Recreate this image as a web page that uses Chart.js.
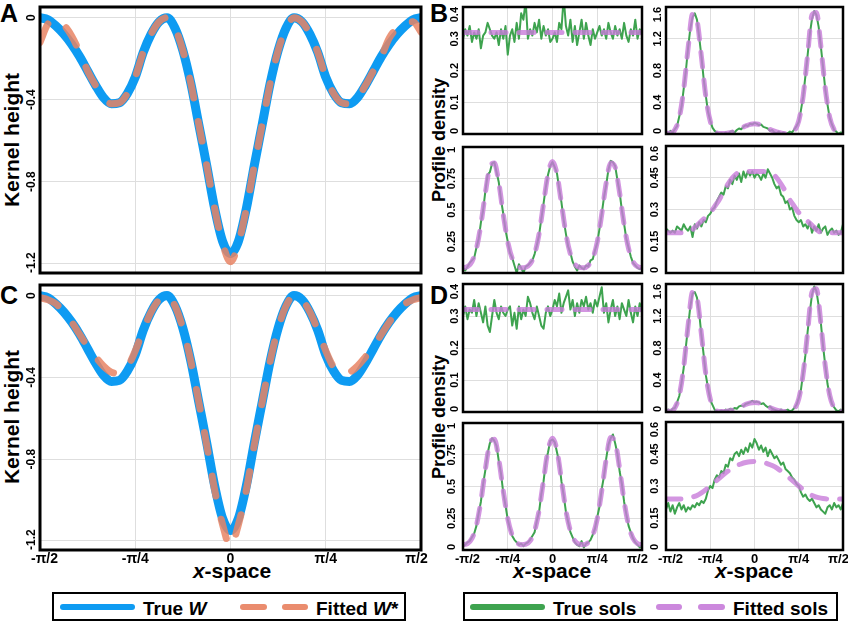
<!DOCTYPE html>
<html>
<head>
<meta charset="utf-8">
<script src="https://cdn.jsdelivr.net/npm/chart.js@4.4.1/dist/chart.umd.min.js"></script>
<style>
  body { margin: 0; width: 848px; height: 622px; background: #fff; position: relative; overflow: hidden;
         font-family: "Liberation Sans", Arial, Helvetica, sans-serif; color: #000; }
  canvas { position: absolute; }
  .tag { position: absolute; font: bold 25px/25px "Liberation Sans", Arial, sans-serif; }
  .ytitle { position: absolute; font-weight: bold; white-space: nowrap;
            transform: translate(-50%, -50%) rotate(-90deg); }
  .xtitle { position: absolute; top: 560px; font: bold 21px/21px "Liberation Sans", Arial, sans-serif;
            transform: translateX(-50%); white-space: nowrap; }
  .box { position: absolute; top: 592px; height: 25px; border: 2px solid #000; }
  .bar { position: absolute; top: 604px; height: 6px; border-radius: 3px; }
  .key { position: absolute; top: 599px; font: bold 19px/19px "Liberation Sans", Arial, sans-serif; white-space: nowrap; }
</style>
</head>
<body>

<div class="tag" style="left:0px;top:1px">A</div>
<div class="tag" style="left:430px;top:1px">B</div>
<div class="tag" style="left:0px;top:283px">C</div>
<div class="tag" style="left:430px;top:283px">D</div>

<div class="ytitle" style="left:10.5px;top:140px;font-size:21px;line-height:21px">Kernel height</div>
<div class="ytitle" style="left:10.5px;top:417px;font-size:21px;line-height:21px">Kernel height</div>
<div class="ytitle" style="left:439px;top:140px;font-size:18px;line-height:18px">Profile density</div>
<div class="ytitle" style="left:439px;top:417px;font-size:18px;line-height:18px">Profile density</div>

<div class="xtitle" style="left:232px"><i>x</i>-space</div>
<div class="xtitle" style="left:552px"><i>x</i>-space</div>
<div class="xtitle" style="left:754px"><i>x</i>-space</div>

<div class="box" style="left:52px;width:350px"></div>
<div class="bar" style="left:60px;width:75px;background:#0e9bf2"></div>
<div class="key" style="left:143px">True <i>W</i></div>
<div class="bar" style="left:240px;width:27px;background:#ea8c6e"></div>
<div class="bar" style="left:282px;width:26px;background:#ea8c6e"></div>
<div class="key" style="left:316px">Fitted <i>W</i>*</div>

<div class="box" style="left:463px;width:371px"></div>
<div class="bar" style="left:470px;width:75px;background:#3ea34f"></div>
<div class="key" style="left:553px">True sols</div>
<div class="bar" style="left:656px;width:26px;background:#cc88dd"></div>
<div class="bar" style="left:698px;width:27px;background:#cc88dd"></div>
<div class="key" style="left:733px">Fitted sols</div>

<script>
// ---- data ----
const xTicks = [-Math.PI / 2, -Math.PI / 4, 0, Math.PI / 4, Math.PI / 2];
const xTickLabels = ['-π/2', '-π/4', '0', 'π/4', 'π/2'];

// sample positions on x-space
const xKernel = Array.from({ length: 49 }, (_, i) => -Math.PI / 2 + i * Math.PI / 48);
const xSol = Array.from({ length: 81 }, (_, i) => -Math.PI / 2 + i * Math.PI / 80);
const xFit = Array.from({ length: 41 }, (_, i) => -Math.PI / 2 + i * Math.PI / 40);
const xFlat = [-Math.PI / 2, Math.PI / 2];

const kernelTicks = [-1.2, -0.8, -0.4, 0];
const flatTicks = [0, 0.1, 0.2, 0.3, 0.4];
const twinTicks = [0, 0.4, 0.8, 1.2, 1.6];
const tripleTicks = [0, 0.25, 0.5, 0.75, 1];
const plateauTicks = [0, 0.15, 0.3, 0.45, 0.6];

const trueW = [
  0.0, -0.01, -0.04, -0.08, -0.13, -0.19, -0.26, -0.33, -0.39, -0.42,
  -0.415, -0.37, -0.29, -0.17, -0.08, -0.02, 0.0, -0.05, -0.16, -0.32,
  -0.52, -0.72, -0.93, -1.09, -1.15, -1.09, -0.93, -0.72, -0.52, -0.32,
  -0.16, -0.05, 0.0, -0.02, -0.08, -0.17, -0.29, -0.37, -0.415, -0.42,
  -0.39, -0.33, -0.26, -0.19, -0.13, -0.08, -0.04, -0.01, 0.0
];
const fittedA = [
  -0.12, -0.03, -0.005, -0.035, -0.09, -0.17, -0.26, -0.33, -0.39, -0.42,
  -0.415, -0.37, -0.29, -0.17, -0.08, -0.02, 0.0, -0.05, -0.16, -0.32,
  -0.52, -0.72, -0.93, -1.10, -1.19, -1.10, -0.93, -0.72, -0.52, -0.32,
  -0.16, -0.05, 0.0, -0.02, -0.08, -0.17, -0.29, -0.37, -0.415, -0.42,
  -0.39, -0.33, -0.26, -0.19, -0.10, -0.05, -0.02, -0.02, -0.07
];
const fittedC = [
  -0.01, -0.02, -0.04, -0.08, -0.13, -0.19, -0.25, -0.30, -0.345, -0.375,
  -0.38, -0.35, -0.27, -0.17, -0.08, -0.02, 0.0, -0.05, -0.16, -0.32,
  -0.52, -0.73, -0.95, -1.12, -1.23, -1.12, -0.95, -0.73, -0.52, -0.32,
  -0.16, -0.05, 0.0, -0.02, -0.08, -0.17, -0.27, -0.35, -0.38, -0.375,
  -0.345, -0.30, -0.25, -0.19, -0.13, -0.08, -0.04, -0.02, -0.01
];

// panel B
const solsB_flat = [
  0.30, 0.33, 0.31, 0.34, 0.29, 0.32, 0.30, 0.33, 0.27, 0.31,
  0.32, 0.35, 0.33, 0.31, 0.30, 0.32, 0.28, 0.33, 0.30, 0.34,
  0.25, 0.31, 0.33, 0.29, 0.35, 0.30, 0.38, 0.36, 0.42, 0.30,
  0.33, 0.31, 0.35, 0.32, 0.36, 0.30, 0.34, 0.31, 0.33, 0.29,
  0.30, 0.32, 0.29, 0.35, 0.33, 0.43, 0.34, 0.31, 0.36, 0.29,
  0.34, 0.28, 0.32, 0.36, 0.30, 0.35, 0.31, 0.28, 0.33, 0.30,
  0.32, 0.34, 0.31, 0.33, 0.30, 0.35, 0.32, 0.30, 0.34, 0.31,
  0.33, 0.30, 0.35, 0.31, 0.29, 0.33, 0.31, 0.36, 0.30, 0.33,
  0.31
];
const fitB_flat = [0.32, 0.32];
const solsB_twin = [
  0.03, 0.01, 0.04, 0.02, 0.06, 0.10, 0.22, 0.34, 0.57, 0.80,
  1.09, 1.33, 1.47, 1.52, 1.44, 1.22, 0.98, 0.70, 0.48, 0.28,
  0.17, 0.08, 0.04, 0.02, 0.00, 0.01, 0.00, 0.02, 0.00, 0.03,
  0.04, 0.02, 0.05, 0.07, 0.06, 0.09, 0.11, 0.10, 0.13, 0.12,
  0.14, 0.13, 0.11, 0.12, 0.09, 0.08, 0.07, 0.04, 0.05, 0.02,
  0.01, 0.03, 0.00, 0.02, 0.00, 0.01, 0.03, 0.02, 0.06, 0.10,
  0.15, 0.30, 0.47, 0.73, 0.99, 1.26, 1.45, 1.55, 1.50, 1.35,
  1.10, 0.84, 0.56, 0.37, 0.20, 0.12, 0.05, 0.03, 0.00, 0.02,
  0.01
];
const fitB_twin = [
  0.01, 0.01, 0.053, 0.205, 0.561, 1.083, 1.51, 1.43, 0.976, 0.471,
  0.161, 0.039, 0.007, 0.005, 0.012, 0.025, 0.045, 0.072, 0.100, 0.122,
  0.130, 0.122, 0.100, 0.072, 0.045, 0.025, 0.012, 0.005, 0.007, 0.040,
  0.164, 0.481, 0.995, 1.50, 1.53, 1.104, 0.572, 0.209, 0.054, 0.010,
  0.01
];
const solsB_triple = [
  0.04, 0.02, 0.05, 0.08, 0.10, 0.12, 0.20, 0.27, 0.40, 0.50,
  0.65, 0.78, 0.80, 0.87, 0.88, 0.80, 0.72, 0.58, 0.47, 0.34,
  0.25, 0.16, 0.12, 0.06, 0.00, 0.07, 0.04, 0.00, 0.05, 0.06,
  0.08, 0.10, 0.15, 0.22, 0.30, 0.43, 0.55, 0.68, 0.78, 0.85,
  0.88, 0.84, 0.79, 0.67, 0.56, 0.42, 0.31, 0.21, 0.16, 0.09,
  0.05, 0.02, 0.06, 0.04, 0.03, 0.06, 0.05, 0.10, 0.11, 0.18,
  0.24, 0.35, 0.47, 0.60, 0.70, 0.82, 0.89, 0.88, 0.85, 0.74,
  0.64, 0.50, 0.39, 0.27, 0.20, 0.13, 0.08, 0.06, 0.04, 0.03,
  0.04
];
const fitB_triple = [
  0.042, 0.050, 0.091, 0.194, 0.385, 0.636, 0.839, 0.873, 0.715, 0.465,
  0.247, 0.116, 0.060, 0.042, 0.045, 0.072, 0.150, 0.311, 0.551, 0.785,
  0.885, 0.785, 0.551, 0.311, 0.150, 0.072, 0.045, 0.042, 0.060, 0.116,
  0.247, 0.465, 0.715, 0.873, 0.839, 0.636, 0.385, 0.194, 0.091, 0.050,
  0.042
];
const solsB_plateau = [
  0.21, 0.20, 0.19, 0.20, 0.19, 0.22, 0.21, 0.20, 0.23, 0.21,
  0.20, 0.22, 0.17, 0.23, 0.21, 0.24, 0.22, 0.25, 0.24, 0.27,
  0.28, 0.30, 0.31, 0.34, 0.36, 0.38, 0.37, 0.41, 0.40, 0.44,
  0.42, 0.46, 0.44, 0.47, 0.43, 0.48, 0.45, 0.48, 0.46, 0.48,
  0.45, 0.47, 0.46, 0.44, 0.47, 0.45, 0.49, 0.47, 0.45, 0.42,
  0.40, 0.41, 0.37, 0.36, 0.33, 0.34, 0.30, 0.31, 0.27, 0.25,
  0.24, 0.25, 0.22, 0.23, 0.21, 0.24, 0.19, 0.22, 0.20, 0.23,
  0.19, 0.21, 0.22, 0.18, 0.20, 0.21, 0.19, 0.20, 0.18, 0.19,
  0.23
];
const fitB_plateau = [
  0.19, 0.19, 0.19, 0.19, 0.19, 0.192, 0.205, 0.225, 0.245, 0.265,
  0.285, 0.315, 0.345, 0.385, 0.42, 0.45, 0.47, 0.478, 0.48, 0.48,
  0.48, 0.48, 0.48, 0.478, 0.47, 0.45, 0.42, 0.385, 0.345, 0.315,
  0.285, 0.265, 0.245, 0.225, 0.205, 0.192, 0.19, 0.19, 0.19, 0.19,
  0.19
];

// panel D
const solsD_flat = [
  0.30, 0.33, 0.29, 0.32, 0.31, 0.35, 0.30, 0.34, 0.31, 0.28,
  0.33, 0.27, 0.25, 0.30, 0.35, 0.31, 0.29, 0.33, 0.31, 0.30,
  0.32, 0.33, 0.27, 0.31, 0.26, 0.33, 0.29, 0.32, 0.30, 0.36,
  0.34, 0.31, 0.29, 0.33, 0.30, 0.27, 0.26, 0.31, 0.33, 0.30,
  0.32, 0.35, 0.33, 0.37, 0.31, 0.34, 0.36, 0.38, 0.32, 0.35,
  0.30, 0.34, 0.31, 0.35, 0.33, 0.36, 0.32, 0.34, 0.31, 0.35,
  0.33, 0.36, 0.39, 0.31, 0.34, 0.28, 0.32, 0.35, 0.30, 0.33,
  0.29, 0.34, 0.32, 0.30, 0.35, 0.31, 0.28, 0.33, 0.30, 0.34,
  0.31
];
const fitD_flat = [0.32, 0.32];
const solsD_twin = [
  0.02, 0.03, 0.01, 0.04, 0.05, 0.12, 0.20, 0.36, 0.55, 0.82,
  1.07, 1.32, 1.48, 1.50, 1.43, 1.24, 0.96, 0.72, 0.46, 0.30,
  0.15, 0.09, 0.03, 0.01, 0.00, 0.02, 0.01, 0.03, 0.02, 0.04,
  0.03, 0.05, 0.04, 0.07, 0.08, 0.07, 0.10, 0.11, 0.12, 0.14,
  0.12, 0.13, 0.12, 0.10, 0.11, 0.08, 0.06, 0.07, 0.04, 0.03,
  0.02, 0.01, 0.03, 0.01, 0.02, 0.03, 0.01, 0.02, 0.05, 0.09,
  0.17, 0.28, 0.49, 0.71, 1.00, 1.25, 1.47, 1.57, 1.51, 1.33,
  1.11, 0.82, 0.58, 0.35, 0.21, 0.10, 0.06, 0.02, 0.01, 0.03,
  0.02
];
const fitD_twin = [
  0.01, 0.01, 0.053, 0.205, 0.561, 1.083, 1.50, 1.43, 0.976, 0.471,
  0.161, 0.039, 0.007, 0.005, 0.012, 0.024, 0.042, 0.068, 0.095, 0.112,
  0.120, 0.112, 0.095, 0.068, 0.042, 0.024, 0.012, 0.005, 0.007, 0.040,
  0.164, 0.481, 0.995, 1.50, 1.54, 1.104, 0.572, 0.209, 0.054, 0.010,
  0.01
];
const solsD_triple = [
  0.03, 0.04, 0.06, 0.07, 0.10, 0.13, 0.19, 0.29, 0.38, 0.52,
  0.63, 0.76, 0.84, 0.88, 0.86, 0.82, 0.70, 0.60, 0.45, 0.35,
  0.24, 0.17, 0.11, 0.08, 0.06, 0.04, 0.05, 0.03, 0.05, 0.06,
  0.08, 0.11, 0.14, 0.23, 0.30, 0.44, 0.54, 0.69, 0.77, 0.86,
  0.87, 0.85, 0.77, 0.69, 0.54, 0.43, 0.30, 0.22, 0.14, 0.10,
  0.06, 0.04, 0.03, 0.07, 0.02, 0.05, 0.06, 0.08, 0.12, 0.17,
  0.26, 0.34, 0.48, 0.58, 0.72, 0.83, 0.88, 0.91, 0.84, 0.76,
  0.62, 0.52, 0.38, 0.28, 0.19, 0.14, 0.09, 0.06, 0.04, 0.02,
  0.04
];
const fitD_triple = [
  0.042, 0.050, 0.091, 0.194, 0.385, 0.636, 0.839, 0.873, 0.715, 0.465,
  0.247, 0.116, 0.060, 0.042, 0.045, 0.072, 0.150, 0.311, 0.551, 0.785,
  0.880, 0.785, 0.551, 0.311, 0.150, 0.072, 0.045, 0.042, 0.060, 0.116,
  0.247, 0.465, 0.715, 0.885, 0.850, 0.640, 0.385, 0.194, 0.091, 0.050,
  0.042
];
const solsD_plateau = [
  0.19, 0.22, 0.18, 0.21, 0.17, 0.20, 0.22, 0.19, 0.21, 0.18,
  0.20, 0.19, 0.21, 0.20, 0.22, 0.21, 0.23, 0.22, 0.24, 0.28,
  0.30, 0.29, 0.33, 0.35, 0.34, 0.37, 0.36, 0.40, 0.39, 0.43,
  0.42, 0.45, 0.46, 0.44, 0.47, 0.45, 0.48, 0.46, 0.50, 0.48,
  0.52, 0.50, 0.47, 0.49, 0.46, 0.48, 0.44, 0.47, 0.45, 0.43,
  0.44, 0.42, 0.40, 0.41, 0.38, 0.37, 0.36, 0.34, 0.33, 0.31,
  0.30, 0.27, 0.25, 0.26, 0.24, 0.23, 0.24, 0.22, 0.20, 0.21,
  0.19, 0.18, 0.17, 0.20, 0.21, 0.19, 0.22, 0.20, 0.21, 0.19,
  0.22
];
const fitD_plateau = [
  0.239, 0.239, 0.239, 0.239, 0.240, 0.243, 0.248, 0.256, 0.268, 0.283,
  0.300, 0.318, 0.336, 0.354, 0.370, 0.385, 0.396, 0.404, 0.410, 0.414,
  0.415, 0.414, 0.410, 0.404, 0.396, 0.385, 0.370, 0.354, 0.336, 0.318,
  0.300, 0.283, 0.268, 0.256, 0.248, 0.243, 0.240, 0.239, 0.239, 0.239,
  0.239
];

// ---- drawing ----
const FONT = '"Liberation Sans", Arial, Helvetica, sans-serif';
const BLUE = '#0e9bf2';
const ORANGE = 'rgba(232,132,100,0.85)';
const GREEN = '#3ea34f';
const PURPLE = 'rgba(200,124,218,0.8)';
const GRID = '#dedede';

Chart.defaults.font.family = FONT;

const pts = (xs, ys) => ys.map((y, i) => ({ x: xs[i], y: y }));

// black box round the plot area
const framePlugin = {
  id: 'frame',
  afterDraw(chart, args, opts) {
    const a = chart.chartArea, ctx = chart.ctx;
    ctx.save();
    ctx.lineWidth = opts.width;
    ctx.strokeStyle = '#000';
    ctx.strokeRect(a.left, a.top, a.right - a.left, a.bottom - a.top);
    ctx.restore();
  }
};

// tick labels placed from the scales: y rotated and kept inside the box, edge x labels pulled in
const tickTextPlugin = {
  id: 'tickText',
  afterDraw(chart, args, o) {
    const ctx = chart.ctx, a = chart.chartArea;
    const ys = chart.scales.y, xs = chart.scales.x;
    ctx.save();
    ctx.fillStyle = '#000';
    ctx.font = 'bold ' + o.yFont + 'px ' + FONT;
    ctx.textAlign = 'center';
    ctx.textBaseline = 'middle';
    const labels = ys.ticks.map(t => String(t.value));
    const widest = Math.max(...labels.map(s => ctx.measureText(s).width));
    const gap = o.yGap || Math.max(8, widest / 2);
    ys.ticks.forEach((t, i) => {
      const w = ctx.measureText(labels[i]).width;
      let c = ys.getPixelForValue(t.value);
      c = Math.min(Math.max(c, a.top + w / 2), a.bottom - w / 2);
      ctx.save();
      ctx.translate(a.left - gap, c);
      ctx.rotate(-Math.PI / 2);
      ctx.fillText(labels[i], 0, 0);
      ctx.restore();
    });
    if (o.showX) {
      ctx.font = 'bold ' + o.xFont + 'px ' + FONT;
      ctx.textBaseline = 'alphabetic';
      const n = xs.ticks.length;
      xs.ticks.forEach((t, i) => {
        let c = xs.getPixelForValue(t.value);
        if (i === 0) c += o.edge;
        if (i === n - 1) c -= o.edge;
        ctx.fillText(xTickLabels[i], c, a.bottom + 13);
      });
    }
    ctx.restore();
  }
};

function trueLine(xs, ys, big) {
  return {
    data: pts(xs, ys), order: 2, pointRadius: 0,
    borderColor: big ? BLUE : GREEN, borderWidth: big ? 9 : 2,
    cubicInterpolationMode: big ? 'monotone' : 'default', tension: 0,
    borderCapStyle: 'round', borderJoinStyle: 'round'
  };
}
function fitLine(xs, ys, big) {
  return {
    data: pts(xs, ys), order: 1, pointRadius: 0,
    borderColor: big ? ORANGE : PURPLE, borderWidth: big ? 7 : 5,
    borderDash: big ? [20, 24] : [15, 13],
    cubicInterpolationMode: 'monotone',
    borderCapStyle: 'round', borderJoinStyle: 'round'
  };
}

// box = plot area [left, top, right, bottom] in page pixels
function addChart(box, o) {
  const left = box[0] - o.wy, top = box[1] - o.pt;
  const width = box[2] + o.pr - left, height = box[3] + o.hx - top;
  const cv = document.createElement('canvas');
  cv.width = width; cv.height = height;
  cv.style.left = left + 'px'; cv.style.top = top + 'px';
  cv.style.width = width + 'px'; cv.style.height = height + 'px';
  document.body.appendChild(cv);

  return new Chart(cv, {
    type: 'line',
    data: { datasets: o.datasets },
    options: {
      responsive: false, animation: false, devicePixelRatio: 1,
      layout: { padding: { left: 0, top: o.pt, right: o.pr, bottom: 0 } },
      plugins: {
        legend: { display: false }, tooltip: { enabled: false },
        frame: { width: o.frame },
        tickText: { yFont: o.yFont, yGap: o.yGap, showX: o.showX, xFont: o.xFont, edge: 4.5 }
      },
      scales: {
        x: {
          type: 'linear', min: -Math.PI / 2, max: Math.PI / 2,
          afterBuildTicks: s => { s.ticks = xTicks.map(v => ({ value: v })); },
          afterFit: s => { s.height = o.hx; s.paddingLeft = 0; s.paddingRight = 0; },
          grid: { color: GRID, drawTicks: false },
          border: { display: false },
          ticks: { display: false }
        },
        y: {
          type: 'linear', min: o.yMin !== undefined ? o.yMin : o.yTicks[0],
          max: o.yMax !== undefined ? o.yMax : o.yTicks[o.yTicks.length - 1],
          afterBuildTicks: s => { s.ticks = o.yTicks.map(v => ({ value: v })); },
          afterFit: s => { s.width = o.wy; s.paddingTop = 0; s.paddingBottom = 0; },
          grid: { color: GRID, drawTicks: false },
          border: { display: false },
          ticks: { display: false }
        }
      }
    },
    plugins: [framePlugin, tickTextPlugin]
  });
}

// panels A and C
const bigOpts = { wy: 40, pr: 14, frame: 3, xFont: 14, yFont: 12, yGap: 8, yMin: -1.245, yMax: 0.052 };
addChart([40, 7, 421, 273], Object.assign({}, bigOpts, {
  pt: 7, hx: 4, showX: false, yTicks: kernelTicks,
  datasets: [trueLine(xKernel, trueW, true), fitLine(xKernel, fittedA, true)]
}));
addChart([40, 285, 421, 550], Object.assign({}, bigOpts, {
  pt: 4, hx: 22, showX: true, yTicks: kernelTicks,
  datasets: [trueLine(xKernel, trueW, true), fitLine(xKernel, fittedC, true)]
}));

// panels B and D
function small(box, col, showX, ticks, xs1, ys1, xs2, ys2) {
  addChart(box, {
    wy: 24, pt: 8, pr: col === 0 ? 12 : 5, hx: showX ? 22 : 4, frame: 2.5,
    showX: showX, xFont: 13, yFont: 11, yTicks: ticks,
    datasets: [trueLine(xs1, ys1, false), fitLine(xs2, ys2, false)]
  });
}
small([463, 7, 642, 134], 0, false, flatTicks, xSol, solsB_flat, xFlat, fitB_flat);
small([666, 7, 843, 134], 1, false, twinTicks, xSol, solsB_twin, xFit, fitB_twin);
small([463, 147, 642, 273], 0, false, tripleTicks, xSol, solsB_triple, xFit, fitB_triple);
small([666, 146, 843, 273], 1, false, plateauTicks, xSol, solsB_plateau, xFit, fitB_plateau);

small([463, 284, 642, 412], 0, false, flatTicks, xSol, solsD_flat, xFlat, fitD_flat);
small([666, 284, 843, 412], 1, false, twinTicks, xSol, solsD_twin, xFit, fitD_twin);
small([463, 423, 642, 550], 0, true, tripleTicks, xSol, solsD_triple, xFit, fitD_triple);
small([666, 422, 843, 550], 1, true, plateauTicks, xSol, solsD_plateau, xFit, fitD_plateau);
</script>
</body>
</html>
